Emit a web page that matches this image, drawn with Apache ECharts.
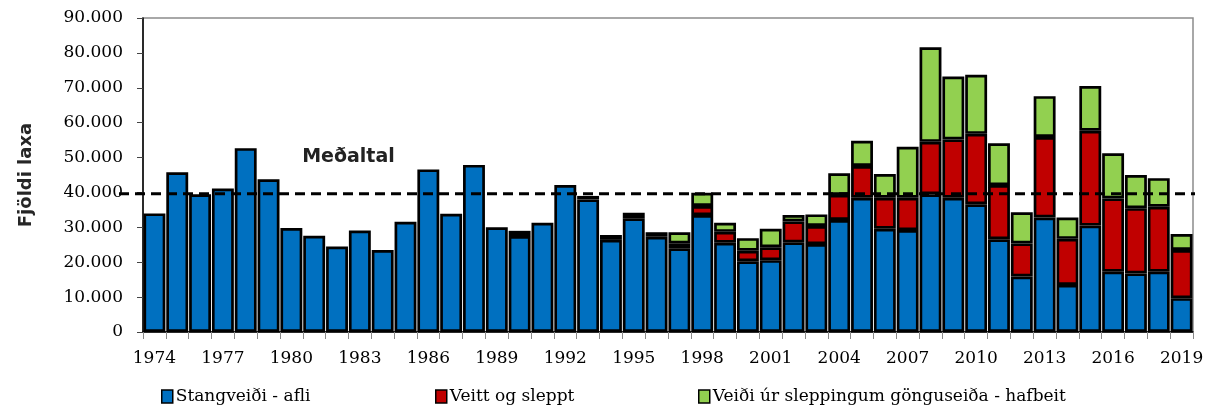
<!DOCTYPE html>
<html>
<head>
<meta charset="utf-8">
<script src="https://cdn.jsdelivr.net/npm/echarts@6/dist/echarts.min.js"></script>
<style>
html,body{margin:0;padding:0;background:#fff;}
#chart{width:1208px;height:408px;}
</style>
</head>
<body>
<div id="chart"></div>
<script>
const years = [];
for (let y = 1974; y <= 2019; y++) years.push(String(y));

const stangveidi = [
  34.0, 45.8, 39.5, 41.1, 52.7, 43.8, 29.8, 27.6, 24.5, 29.1,
  23.5, 31.6, 46.6, 33.9, 47.9, 30.0, 27.5, 31.3, 42.1, 38.0,
  26.4, 32.6, 27.3, 24.0, 33.5, 25.6, 20.3, 20.6, 25.7, 25.2,
  32.1, 38.5, 29.6, 29.2, 39.5, 38.5, 36.6, 26.6, 15.9, 32.8,
  13.5, 30.5, 17.3, 16.8, 17.3, 9.7
];
const veittSleppt = [
  0, 0, 0, 0, 0, 0, 0, 0, 0, 0,
  0, 0, 0, 0, 0, 0, 0, 0, 0, 0,
  0, 0, 0, 1.4, 2.6, 3.1, 3.0, 3.7, 6.0, 5.2,
  7.2, 9.1, 8.9, 9.3, 15.0, 16.7, 20.2, 15.5, 9.5, 23.1,
  13.2, 27.2, 21.0, 18.7, 18.6, 13.8
];
const hafbeit = [
  0, 0, 0, 0, 0, 0, 0, 0, 0, 0,
  0, 0, 0, 0, 0, 0, 1.5, 0, 0, 1.0,
  1.4, 1.6, 1.3, 3.2, 3.8, 2.6, 3.6, 5.3, 1.8, 3.3,
  6.2, 7.2, 6.8, 14.6, 27.1, 18.0, 16.9, 12.0, 8.9, 11.7,
  6.1, 12.8, 12.9, 9.5, 8.2, 4.6
];
const medaltal = 39.6; // thousands
const yTicks = [0, 10000, 20000, 30000, 40000, 50000, 60000, 70000, 80000, 90000];
const seriesNames = ['Stangveiði - afli', 'Veitt og sleppt', 'Veiði úr sleppingum gönguseiða - hafbeit'];
const seriesColors = ['#0070C0', '#C00000', '#92D050'];

const toVal = arr => arr.map(v => v === 0 ? '-' : Math.round(v * 1000));
const fmt = v => String(v).replace(/\B(?=(\d{3})+(?!\d))/g, '.');

const serifFont = 'DejaVu Serif';
const chart = echarts.init(document.getElementById('chart'), null, {renderer: 'canvas'});

const seriesData = [stangveidi, veittSleppt, hafbeit];
const option = {
  animation: false,
  backgroundColor: '#fff',
  grid: {
    left: 143, right: 15, top: 18, bottom: 76,
    show: true, borderColor: '#8c8c8c', borderWidth: 1.5, backgroundColor: 'transparent'
  },
  legend: seriesNames.map((n, i) => ({
    data: [n],
    left: [156, 430, 693][i],
    top: 383,
    itemWidth: 11,
    itemHeight: 13,
    itemGap: 4,
    icon: 'rect',
    itemStyle: {borderColor: '#000', borderWidth: 1.5},
    textStyle: {fontFamily: serifFont, fontSize: 17, color: '#000', padding: [0, 0, 0, -2]}
  })),
  xAxis: {
    type: 'category',
    data: years,
    boundaryGap: true,
    axisLine: {lineStyle: {color: '#000', width: 1.5}},
    axisTick: {show: true, interval: 0, length: 7, lineStyle: {color: '#888', width: 1}},
    axisLabel: {interval: 2, margin: 18, fontFamily: serifFont, fontSize: 17, color: '#000'}
  },
  yAxis: {
    type: 'value',
    min: 0, max: 90000, interval: 10000,
    name: 'Fjöldi laxa',
    nameLocation: 'middle',
    nameRotate: 90,
    nameGap: 108,
    nameTextStyle: {fontFamily: 'DejaVu Sans', fontWeight: 'bold', fontSize: 18, color: '#262626'},
    axisLine: {show: true, lineStyle: {color: '#000', width: 1.5}},
    axisTick: {show: true, length: 6, lineStyle: {color: '#444'}},
    splitLine: {show: false},
    axisLabel: {margin: 20, fontFamily: serifFont, fontSize: 17, color: '#000', formatter: v => yTicks.includes(v) ? fmt(v) : ''}
  },
  series: seriesData.map((d, i) => ({
    name: seriesNames[i],
    type: 'bar',
    stack: 'total',
    data: toVal(d),
    barCategoryGap: '4%',
    itemStyle: {color: seriesColors[i], borderColor: '#000', borderWidth: 2.7}
  }))
};
chart.setOption(option);

// Average dashed line and label, positioned through the chart's own scales
const yAvg = chart.convertToPixel({yAxisIndex: 0}, medaltal * 1000);
const gridRect = chart.getModel().getComponent('grid').coordinateSystem.getRect();
const xA = chart.convertToPixel({xAxisIndex: 0}, years[8]);
const xB = chart.convertToPixel({xAxisIndex: 0}, years[9]);
const yLbl = chart.convertToPixel({yAxisIndex: 0}, 50000);
chart.setOption({
  graphic: [
    {
      type: 'line', z: 100,
      shape: {x1: gridRect.x - 24, y1: yAvg, x2: gridRect.x + gridRect.width + 2, y2: yAvg},
      style: {stroke: '#000', lineWidth: 3, lineDash: [10, 6]}
    },
    {
      type: 'text', z: 100,
      x: (xA + xB) / 2, y: yLbl,
      style: {text: 'Meðaltal', fontFamily: 'DejaVu Sans', fontWeight: 'bold', fontSize: 19, fill: '#222', align: 'center', verticalAlign: 'middle'}
    }
  ]
});
</script>
</body>
</html>
